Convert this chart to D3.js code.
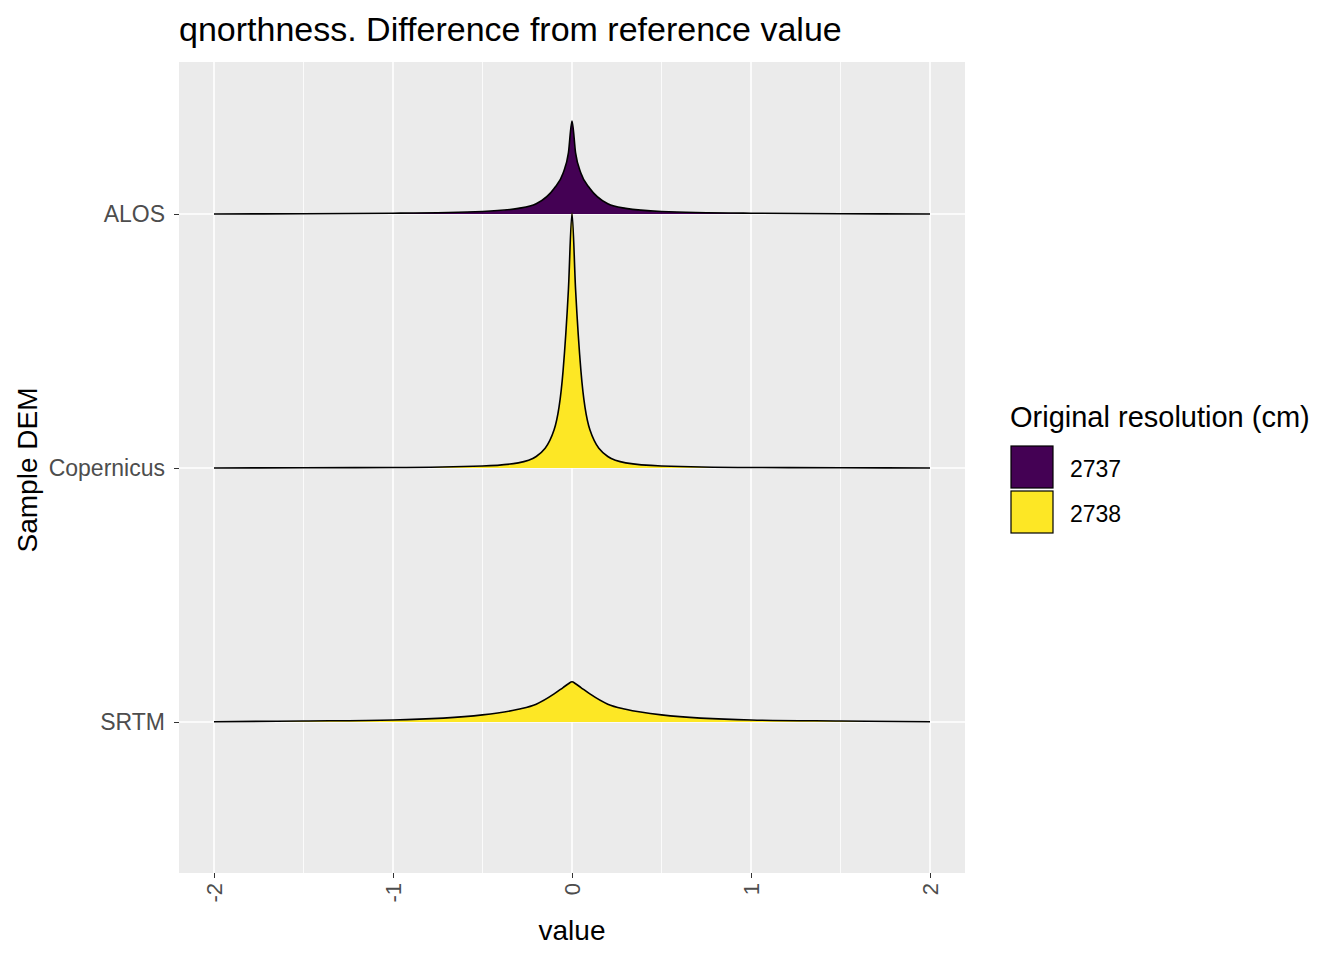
<!DOCTYPE html>
<html><head><meta charset="utf-8">
<script src="https://cdn.jsdelivr.net/npm/d3@7"></script>
<style>body{margin:0;background:#fff}text{font-family:Arial,"Liberation Sans",sans-serif}</style>
</head><body><div id="chart"></div>
<script>
const samples = ['ALOS', 'Copernicus', 'SRTM']
const groups = ['2737', '2738', '2738']
const xs = [-2, -1.5, -1, -0.5, -0.3, -0.2, -0.1, -0.05, -0.02, 0, 0.02, 0.05, 0.1, 0.2, 0.3, 0.5, 1, 1.5, 2]
const alosY = [0, 0.01, 0.03, 0.1, 0.22, 0.4, 1.0, 1.6, 2.4, 3.65, 2.4, 1.6, 1.0, 0.4, 0.22, 0.1, 0.03, 0.01, 0]
const copY = [0, 0.01, 0.02, 0.08, 0.2, 0.45, 1.5, 3.8, 7.0, 10.0, 7.0, 3.8, 1.5, 0.45, 0.2, 0.08, 0.02, 0.01, 0]
const srtmY = [0.01, 0.04, 0.08, 0.28, 0.5, 0.7, 1.1, 1.35, 1.5, 1.58, 1.5, 1.35, 1.1, 0.7, 0.5, 0.28, 0.08, 0.04, 0.01]
const densities = [alosY, copY, srtmY]
const legendKeys = ['2737', '2738']
const colors = { '2737': '#440154', '2738': '#FDE725' }
const xTicks = [-2, -1, 0, 1, 2]

const width = 1344, height = 960
const panel = { left: 179, right: 965, top: 62, bottom: 873 }

const svg = d3.select('#chart').append('svg').attr('width', width).attr('height', height)

const x = d3.scaleLinear().domain([-2, 2]).range([214, 930])
const yBase = d3.scalePoint().domain(samples).range([214, 722])
const hScale = d3.scaleLinear().domain([0, 1]).range([0, 25.5])

svg.append('rect')
  .attr('x', panel.left).attr('y', panel.top)
  .attr('width', panel.right - panel.left).attr('height', panel.bottom - panel.top)
  .attr('fill', '#EBEBEB')

// minor grid
;[-1.5, -0.5, 0.5, 1.5].forEach(v => {
  svg.append('line').attr('x1', x(v)).attr('x2', x(v))
    .attr('y1', panel.top).attr('y2', panel.bottom)
    .attr('stroke', '#fff').attr('stroke-width', 0.8)
})
xTicks.forEach(v => {
  svg.append('line').attr('x1', x(v)).attr('x2', x(v))
    .attr('y1', panel.top).attr('y2', panel.bottom)
    .attr('stroke', '#fff').attr('stroke-width', 1.6)
})
samples.forEach(s => {
  svg.append('line').attr('x1', panel.left).attr('x2', panel.right)
    .attr('y1', yBase(s)).attr('y2', yBase(s))
    .attr('stroke', '#fff').attr('stroke-width', 1.6)
})

const area = d3.area().curve(d3.curveMonotoneX)
const line = d3.line().curve(d3.curveMonotoneX)

samples.forEach((s, i) => {
  const pts = xs.map((v, j) => [x(v), yBase(s) - hScale(densities[i][j])])
  svg.append('path')
    .attr('d', area.x(d => d[0]).y0(yBase(s)).y1(d => d[1])(pts))
    .attr('fill', colors[groups[i]])
  svg.append('path')
    .attr('d', line(pts))
    .attr('fill', 'none').attr('stroke', '#000').attr('stroke-width', 1.6)
})

// axes
const gx = svg.append('g').attr('transform', `translate(0,${panel.bottom})`)
  .call(d3.axisBottom(x).tickValues(xTicks).tickSize(5).tickSizeOuter(0).tickFormat(d => d < 0 ? '-' + Math.abs(d) : d))
gx.select('.domain').remove()
gx.selectAll('line').attr('stroke', '#333')
gx.selectAll('text').attr('font-size', 22).attr('fill', '#4D4D4D')
  .attr('transform', 'rotate(-90)').attr('text-anchor', 'end')
  .attr('x', -10).attr('y', 0).attr('dy', '0.35em')

const gy = svg.append('g').attr('transform', `translate(${panel.left},0)`)
  .call(d3.axisLeft(yBase).tickSize(5).tickSizeOuter(0))
gy.select('.domain').remove()
gy.selectAll('line').attr('stroke', '#333')
gy.selectAll('text').attr('font-size', 23).attr('fill', '#4D4D4D').attr('x', -14)

svg.append('text').attr('x', 572).attr('y', 940).attr('text-anchor', 'middle')
  .attr('font-size', 28).text('value')
svg.append('text').attr('transform', 'translate(37,470) rotate(-90)')
  .attr('text-anchor', 'middle').attr('font-size', 28).text('Sample DEM')
svg.append('text').attr('x', 179).attr('y', 41).attr('font-size', 34)
  .text('qnorthness. Difference from reference value')

// legend
svg.append('text').attr('x', 1010).attr('y', 427).attr('font-size', 29)
  .text('Original resolution (cm)')
legendKeys.forEach((k, i) => {
  svg.append('rect').attr('x', 1011).attr('y', 446 + i * 45)
    .attr('width', 42).attr('height', 42)
    .attr('fill', colors[k]).attr('stroke', '#000').attr('stroke-width', 1.2)
  svg.append('text').attr('x', 1070).attr('y', 477 + i * 45)
    .attr('font-size', 23).text(k)
})
</script></body></html>
